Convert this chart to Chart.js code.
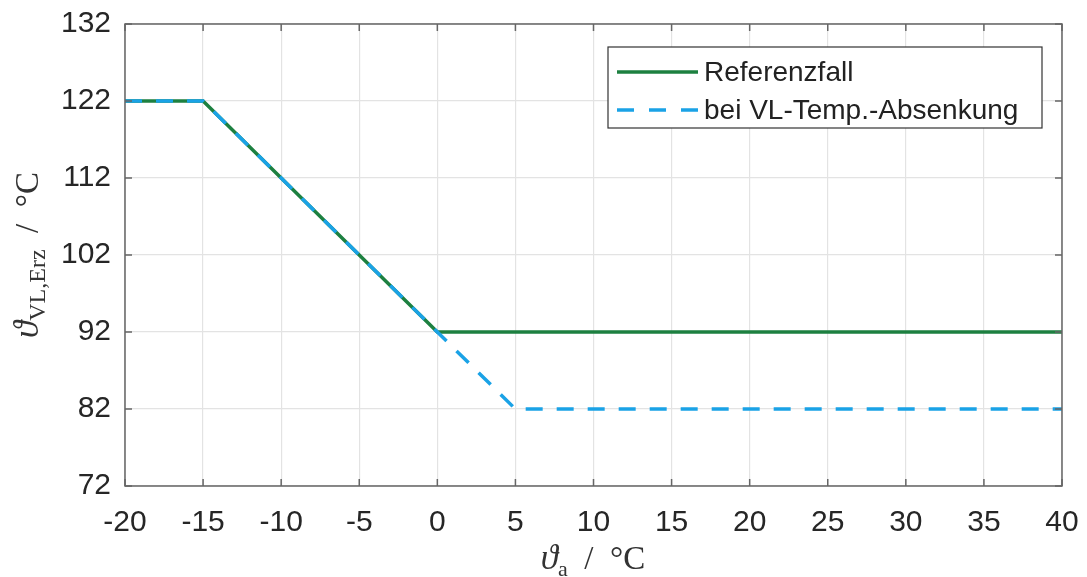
<!DOCTYPE html>
<html>
<head>
<meta charset="utf-8">
<script src="https://cdn.jsdelivr.net/npm/chart.js@4.4.1/dist/chart.umd.min.js"></script>
<style>
  html, body { margin: 0; padding: 0; background: #fff; }
  #wrap { width: 1087px; height: 577px; }
</style>
</head>
<body>
<div id="wrap"><canvas id="c"></canvas></div>
<script>
// values
const refX = [-20, -15, 0, 40];
const refY = [122, 122, 92, 92];
const absX = [-20, -15, 0, 5, 40];
const absY = [122, 122, 92, 82, 82];
const xTicks = [-20, -15, -10, -5, 0, 5, 10, 15, 20, 25, 30, 35, 40];
const yTicks = [72, 82, 92, 102, 112, 122, 132];
const seriesNames = ['Referenzfall', 'bei VL-Temp.-Absenkung'];

const green = '#1d8040';
const blue = '#1aa2e6';
const sans = '"Liberation Sans", Arial, sans-serif';
const serif = '"Liberation Serif", "DejaVu Serif", serif';

const pts = (xs, ys) => xs.map((x, i) => ({ x: x, y: ys[i] }));

// box, inside ticks, legend and axis titles like the matlab figure
const decor = {
  id: 'decor',
  afterDatasetsDraw(chart) {
    const ctx = chart.ctx;
    const a = chart.chartArea;
    const xs = chart.scales.x, ys = chart.scales.y;
    ctx.save();
    ctx.strokeStyle = '#666';
    ctx.lineWidth = 1.5;
    ctx.strokeRect(a.left, a.top, a.right - a.left, a.bottom - a.top);
    ctx.beginPath();
    xTicks.forEach(t => {
      const p = xs.getPixelForValue(t);
      ctx.moveTo(p, a.bottom); ctx.lineTo(p, a.bottom - 7);
      ctx.moveTo(p, a.top); ctx.lineTo(p, a.top + 7);
    });
    yTicks.forEach(t => {
      const p = ys.getPixelForValue(t);
      ctx.moveTo(a.left, p); ctx.lineTo(a.left + 7, p);
      ctx.moveTo(a.right, p); ctx.lineTo(a.right - 7, p);
    });
    ctx.stroke();

    // legend
    const lx = 608, ly = 47, lw = 434, lh = 81;
    ctx.fillStyle = '#fff';
    ctx.fillRect(lx, ly, lw, lh);
    ctx.strokeStyle = '#333';
    ctx.lineWidth = 1.2;
    ctx.strokeRect(lx, ly, lw, lh);
    ctx.lineWidth = 3.5;
    ctx.strokeStyle = green;
    ctx.beginPath(); ctx.moveTo(617, 72); ctx.lineTo(698, 72); ctx.stroke();
    ctx.strokeStyle = blue;
    ctx.setLineDash([17, 15]);
    ctx.beginPath(); ctx.moveTo(617, 110); ctx.lineTo(698, 110); ctx.stroke();
    ctx.setLineDash([]);
    ctx.fillStyle = '#222';
    ctx.font = '28px ' + sans;
    ctx.textBaseline = 'middle';
    ctx.textAlign = 'left';
    ctx.fillText(seriesNames[0], 704, 73);
    ctx.fillText(seriesNames[1], 704, 111);

    // axis titles
    const drawTitle = (sub, subSize, cx, cy) => {
      ctx.font = 'italic 35px ' + serif;
      const w1 = ctx.measureText('ϑ').width;
      ctx.font = subSize + 'px ' + serif;
      const w2 = ctx.measureText(sub).width;
      ctx.font = '33px ' + serif;
      const rest = '  /  °C';
      const w3 = ctx.measureText(rest).width;
      let x = cx - (w1 + w2 + w3) / 2;
      ctx.textAlign = 'left';
      ctx.textBaseline = 'alphabetic';
      ctx.font = 'italic 35px ' + serif;
      ctx.fillText('ϑ', x, cy); x += w1;
      ctx.font = subSize + 'px ' + serif;
      ctx.fillText(sub, x, cy + 7); x += w2;
      ctx.font = '33px ' + serif;
      ctx.fillText(rest, x, cy);
    };
    ctx.fillStyle = '#333';
    drawTitle('a', 22, 593, 569);
    ctx.translate(38, (a.top + a.bottom) / 2);
    ctx.rotate(-Math.PI / 2);
    drawTitle('VL,Erz', 24, 0, 0);
    ctx.restore();
  }
};

new Chart(document.getElementById('c'), {
  type: 'line',
  data: {
    datasets: [
      {
        label: seriesNames[0],
        data: pts(refX, refY),
        borderColor: green,
        borderWidth: 3.5,
        pointRadius: 0,
        tension: 0,
        order: 2
      },
      {
        label: seriesNames[1],
        data: pts(absX, absY),
        borderColor: blue,
        borderWidth: 3.5,
        borderDash: [17, 14],
        pointRadius: 0,
        tension: 0,
        order: 1
      }
    ]
  },
  options: {
    responsive: true,
    maintainAspectRatio: false,
    animation: false,
    layout: { padding: { top: 24, right: 25, left: 0, bottom: 0 } },
    plugins: { legend: { display: false }, tooltip: { enabled: false } },
    scales: {
      x: {
        type: 'linear',
        min: -20, max: 40,
        afterBuildTicks: s => { s.ticks = xTicks.map(v => ({ value: v })); },
        afterFit: s => { s.height = 91; s.paddingLeft = 0; s.paddingRight = 0; },
        grid: { color: '#e3e3e3', lineWidth: 1.2, drawTicks: false },
        border: { display: false },
        ticks: { color: '#262626', padding: 19, maxRotation: 0, font: { family: sans, size: 30 } }
      },
      y: {
        min: 72, max: 132,
        afterBuildTicks: s => { s.ticks = yTicks.map(v => ({ value: v })); },
        afterFit: s => { s.width = 125; s.paddingTop = 0; s.paddingBottom = 0; },
        grid: { color: '#e3e3e3', lineWidth: 1.2, drawTicks: false },
        border: { display: false },
        ticks: { color: '#262626', padding: 14, font: { family: sans, size: 30 } }
      }
    }
  },
  plugins: [decor]
});
</script>
</body>
</html>
